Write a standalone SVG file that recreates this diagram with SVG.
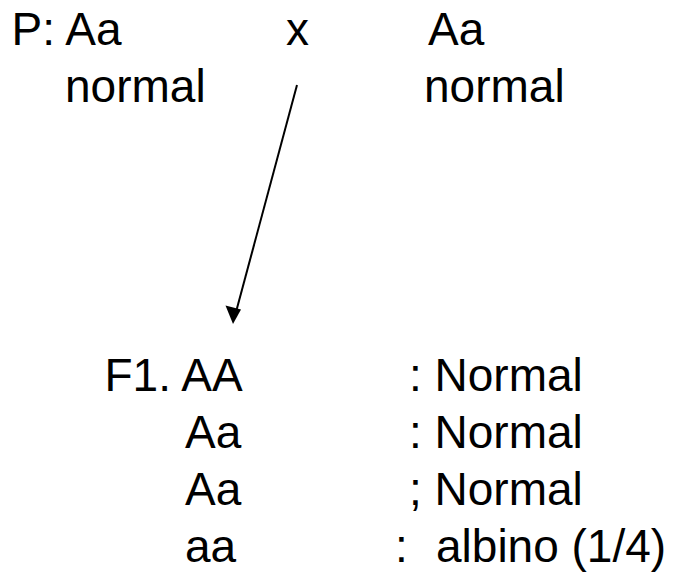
<svg xmlns="http://www.w3.org/2000/svg" width="679" height="572" viewBox="0 0 679 572">
<defs>
<style>
text{font-family:"Liberation Sans",Arial,sans-serif;font-size:46px;fill:#000}
.conn{stroke:#000;stroke-width:2;fill:none}
</style>
</defs>
<rect width="679" height="572" fill="#fff"/>
<g id="parent1">
<text x="11.5" y="45">P: Aa</text>
<text x="65" y="102">normal</text>
</g>
<g id="cross"><text x="286" y="45">x</text></g>
<g id="parent2">
<text x="428" y="45">Aa</text>
<text x="424" y="102">normal</text>
</g>
<g id="f1">
<text x="104.5" y="391">F1. AA</text>
<text x="185" y="448">Aa</text>
<text x="185" y="505">Aa</text>
<text x="185" y="562">aa</text>
<text x="409" y="391">: Normal</text>
<text x="409" y="448">: Normal</text>
<text x="409" y="505">; Normal</text>
<text x="395" y="562">:</text>
<text x="436" y="562">albino (1/4)</text>
</g>
<g id="connectors">
<line class="conn" x1="297" y1="85" x2="236" y2="312"/>
<path d="M233,324 L225.5,305.5 L241,309.5 z" fill="#000"/>
</g>
</svg>
